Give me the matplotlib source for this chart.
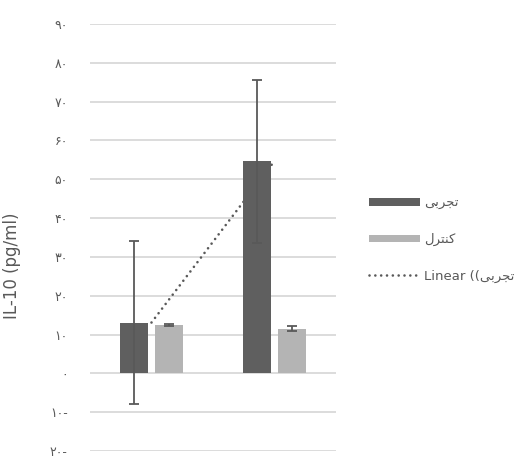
import numpy as np
import matplotlib
matplotlib.use("Agg")
import matplotlib.pyplot as plt
from matplotlib.patches import Patch
from matplotlib.lines import Line2D

plt.rcParams['font.family'] = ['DejaVu Sans']

# Data
groups = [0, 1]
exp_vals = [13.1, 54.7]        # تجربی
exp_err = [21.0, 21.0]
ctrl_vals = [12.4, 11.5]       # کنترل
ctrl_err = [0.3, 0.6]

yticks = [-20, -10, 0, 10, 20, 30, 40, 50, 60, 70, 80, 90]
ytick_labels = ["۲۰-", "۱۰-", "۰", "۱۰", "۲۰", "۳۰", "۴۰", "۵۰", "۶۰", "۷۰", "۸۰", "۹۰"]

# shaped Persian labels (visual order, presentation forms)
label_exp = "\uFBFD\uFE91\uFEAE\uFEA0\uFE97"      # تجربی
label_ctrl = "\uFEDD\uFEAE\uFE98\uFEE8\uFB90"     # کنترل
label_trend = "Linear ((" + label_exp

dark = "#5f5f5f"
light = "#b4b4b4"
errc = "#595959"
grid = "#d9d9d9"
textc = "#595959"

fig = plt.figure(figsize=(5.29, 4.59), dpi=100)
ax = fig.add_axes([90/529, 1-451/459, 246/529, (451-24)/459])

x = np.array(groups, dtype=float)
w = 0.227
off = 0.142
dots = (0, (0.01, 2.2))

# trendline (linear fit of experimental series)
coef = np.polyfit(x, exp_vals, 1)
xt = np.array([x[0], x[-1]])
ax.plot(xt, np.polyval(coef, xt), linestyle=dots, color=errc,
        linewidth=1.9, dash_capstyle='round', zorder=1)

ax.bar(x - off, exp_vals, width=w, color=dark, zorder=2)
ax.bar(x + off, ctrl_vals, width=w, color=light, zorder=2)
ax.errorbar(x - off, exp_vals, yerr=exp_err, fmt='none', ecolor=errc,
            elinewidth=1.3, capsize=3.8, capthick=1.3, zorder=3)
ax.errorbar(x + off, ctrl_vals, yerr=ctrl_err, fmt='none', ecolor=errc,
            elinewidth=1.3, capsize=3.8, capthick=1.3, zorder=3)

ax.set_xlim(-0.5, 1.5)
ax.set_ylim(-20, 90)
ax.set_yticks(yticks)
ax.set_yticklabels(ytick_labels)
ax.set_xticks([])
ax.yaxis.grid(True, color=grid, linewidth=1.3, zorder=0)
ax.set_axisbelow(True)
for s in ax.spines.values():
    s.set_visible(False)
ax.tick_params(axis='y', length=0, pad=16, labelsize=9, labelcolor=textc)
ax.set_ylabel("IL-10 (pg/ml)", fontsize=12, color=textc)
ax.yaxis.set_label_coords((21 - 90) / 246, (451 - 266) / 427)

handles = [Patch(facecolor=dark), Patch(facecolor=light),
           Line2D([0], [0], linestyle=dots, color=errc, linewidth=1.9,
                  dash_capstyle='round')]
leg = fig.legend(handles, [label_exp, label_ctrl, label_trend],
                 loc='upper left', bbox_to_anchor=(369/529, 1-197/459),
                 frameon=False, fontsize=9.5, handlelength=3.85, handleheight=0.53,
                 handletextpad=0.3, labelspacing=1.75, borderpad=0, borderaxespad=0)
for t in leg.get_texts():
    t.set_color(textc)

fig.savefig("out.png", dpi=100)
